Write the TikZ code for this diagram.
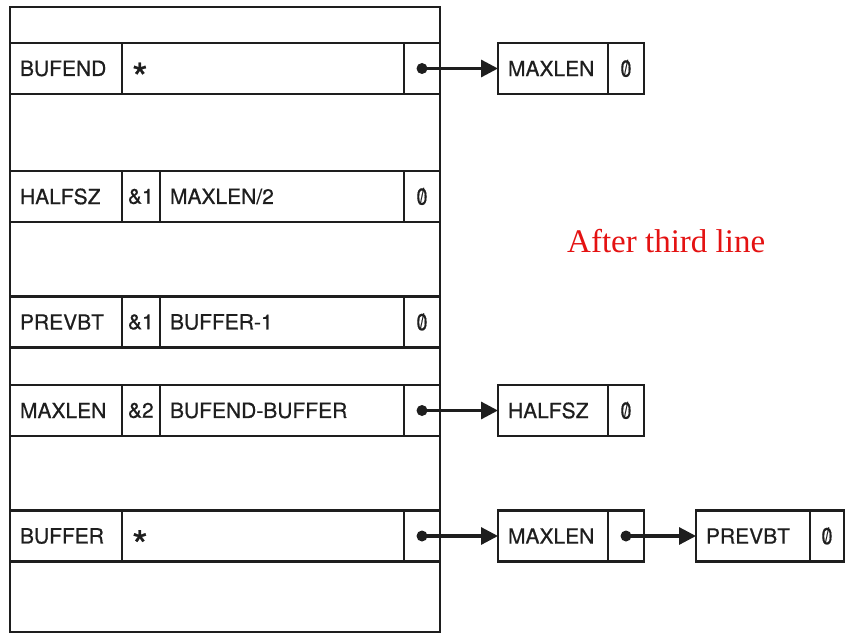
\documentclass[tikz,border=0pt]{standalone}
\usepackage{fontspec}
\setmainfont{TeX Gyre Heros}
\newfontfamily\cellfont{TeX Gyre Heros}[FakeBold=0.6]
\newfontfamily\notefont{Liberation Serif}
\usepackage{xcolor}
\usetikzlibrary{positioning, arrows.meta}

\definecolor{ink}{RGB}{30,30,30}
\definecolor{notered}{RGB}{228,18,18}
\newcommand{\slzero}{\scalebox{0.95}[1.1]{\ooalign{0\cr\hidewidth\raisebox{0.04em}{\scalebox{0.75}[0.95]{/}}\hidewidth\cr}}}
\newcommand{\bigstar}{\vphantom{B}\smash{\raisebox{-0.78em}{\scalebox{1.95}{*}}}}

\tikzset{
  cell/.style={draw=ink, line width=2.4pt, anchor=west, outer sep=0pt, inner ysep=0pt, inner xsep=10pt,
    minimum height=51pt, text width=#1, align=left, text=ink, font=\cellfont\fontsize{21}{24}\selectfont},
  endcell/.style={cell=16pt, align=center},
  ampcell/.style={cell=26pt, inner xsep=6pt},
  ptrdot/.style={circle, fill=ink, inner sep=0pt, minimum size=11pt},
  ptr/.style={draw=ink, line width=3.2pt, -{Triangle[length=17pt, width=17pt]}}
}

\begin{document}
\begin{tikzpicture}[x=1pt, y=-1pt]
        \useasboundingbox (0,0) rectangle (850,639);

        % Symbol table
        \draw[ink, line width=2.4pt] (10,7) rectangle (440,632);

        \node[cell=92pt] (bufend) at (10,68.5) {BUFEND};
        \node[cell=262pt, right=0pt of bufend] (bufendval) {\bigstar};
        \node[endcell, right=0pt of bufendval] (bufendptr) {};

        \node[cell=92pt] (halfsz) at (10,196.5) {HALFSZ};
        \node[ampcell, right=0pt of halfsz] (halfszlen) {\&1};
        \node[cell=224pt, right=0pt of halfszlen] (halfszval) {MAXLEN/2};
        \node[endcell, right=0pt of halfszval] (halfszptr) {\slzero};

        \node[cell=92pt] (prevbt) at (10,322) {PREVBT};
        \node[ampcell, right=0pt of prevbt] (prevbtlen) {\&1};
        \node[cell=224pt, right=0pt of prevbtlen] (prevbtval) {BUFFER-1};
        \node[endcell, right=0pt of prevbtval] (prevbtptr) {\slzero};

        \node[cell=92pt] (maxlen) at (10,410.5) {MAXLEN};
        \node[ampcell, right=0pt of maxlen] (maxlenlen) {\&2};
        \node[cell=224pt, right=0pt of maxlenlen] (maxlenval) {BUFEND-BUFFER};
        \node[endcell, right=0pt of maxlenval] (maxlenptr) {};

        \node[cell=92pt] (buffer) at (10,536) {BUFFER};
        \node[cell=262pt, right=0pt of buffer] (bufferval) {\bigstar};
        \node[endcell, right=0pt of bufferval] (bufferptr) {};

        % Forward reference lists
        \node[cell=90pt] (refa) at (498,68.5) {MAXLEN};
        \node[endcell, right=0pt of refa] (refaend) {\slzero};

        \node[cell=90pt] (refb) at (498,410.5) {HALFSZ};
        \node[endcell, right=0pt of refb] (refbend) {\slzero};

        \node[cell=90pt] (refc) at (498,536) {MAXLEN};
        \node[endcell, right=0pt of refc] (refcend) {};
        \node[cell=94pt, right=52pt of refcend] (refd) {PREVBT};
        \node[cell=14pt, align=center, right=0pt of refd] (refdend) {\slzero};

        % Pointers
        \node[ptrdot] (dota) at (bufendptr.center) {};
        \node[ptrdot] (dotb) at (maxlenptr.center) {};
        \node[ptrdot] (dotc) at (bufferptr.center) {};
        \node[ptrdot] (dotd) at (refcend.center) {};
        \draw[ptr] (dota.center) -- (refa.west);
        \draw[ptr] (dotb.center) -- (refb.west);
        \draw[ptr] (dotc.center) -- (refc.west);
        \draw[ptr] (dotd.center) -- (refd.west);

        \node[anchor=base west, text=notered, inner sep=0pt, font=\notefont\fontsize{33}{38}\selectfont] (note) at (567,252) {After third line};
      \end{tikzpicture}
\end{document}
